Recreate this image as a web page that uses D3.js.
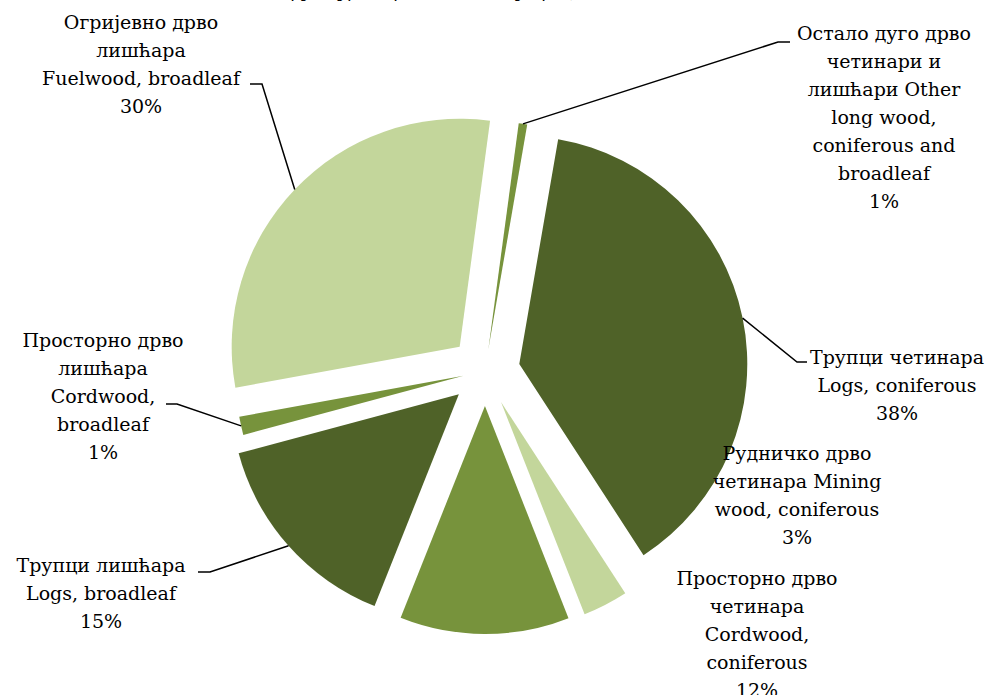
<!DOCTYPE html>
<html>
<head>
<meta charset="utf-8">
<script src="https://cdn.jsdelivr.net/npm/d3@7"></script>
<style>
  body { margin: 0; background: #fff; }
  svg { display: block; font-family: "DejaVu Serif", serif; }
</style>
</head>
<body>
<svg id="chart"></svg>
<script>
// clockwise from the top of the pie
const categories = [
  'Остало дуго дрво четинари и лишћари Other long wood, coniferous and broadleaf',
  'Трупци четинара Logs, coniferous',
  'Рудничко дрво четинара Mining wood, coniferous',
  'Просторно дрво четинара Cordwood, coniferous',
  'Трупци лишћара Logs, broadleaf',
  'Просторно дрво лишћара Cordwood, broadleaf',
  'Огријевно дрво лишћара Fuelwood, broadleaf'
];
const values = [0.6, 38.1, 3.2, 12.0, 14.8, 1.3, 30.0];
const percentLabels = ['1%', '38%', '3%', '12%', '15%', '1%', '30%'];
const labelLines = [
  ['Остало дуго дрво', 'четинари и', 'лишћари Other', 'long wood,', 'coniferous and', 'broadleaf'],
  ['Трупци четинара', 'Logs, coniferous'],
  ['Рудничко дрво', 'четинара Mining', 'wood, coniferous'],
  ['Просторно дрво', 'четинара', 'Cordwood,', 'coniferous'],
  ['Трупци лишћара', 'Logs, broadleaf'],
  ['Просторно дрво', 'лишћара', 'Cordwood,', 'broadleaf'],
  ['Огријевно дрво', 'лишћара', 'Fuelwood, broadleaf']
];

const width = 1003;
const height = 695;
const cx = 485, cy = 371;
const radius = 228;
const startDeg = 7.66;
const lineH = 28;

const colors = ['#77933C', '#4F6228', '#C3D69B', '#77933C', '#4F6228', '#77933C', '#C3D69B'];
const explode = [22, 35, 35, 35, 35, 22, 35];

// label block: centre x, first line y; leader: elbow x, elbow y, end x (null = no leader)
const labelPos = [
  { x: 884, y: 33, leader: [778, 42, 790] },
  { x: 897, y: 357, leader: [797, 362, 807] },
  { x: 797, y: 453, leader: null },
  { x: 757, y: 578, leader: null },
  { x: 101, y: 565, leader: [210, 572, 198] },
  { x: 103, y: 340, leader: [177, 404, 166] },
  { x: 141, y: 22, leader: [262, 84, 250] }
];

const svg = d3.select('#chart')
  .attr('width', width)
  .attr('height', height)
  .attr('viewBox', `0 0 ${width} ${height}`);

// title, mostly cut off at the top edge
svg.append('text')
  .attr('x', 458)
  .attr('y', -3)
  .attr('text-anchor', 'middle')
  .style('font-style', 'italic')
  .style('font-size', '17px')
  .attr('fill', '#000')
  .text('Структура сортимената (у процентима)');

const data = values.map((v, i) => ({ name: categories[i], value: v, i }));

const pie = d3.pie()
  .sort(null)
  .value(d => d.value)
  .startAngle(startDeg * Math.PI / 180)
  .endAngle(startDeg * Math.PI / 180 + 2 * Math.PI);

const arc = d3.arc()
  .innerRadius(0)
  .outerRadius(radius);

const arcs = pie(data);

const offset = d => {
  const mid = (d.startAngle + d.endAngle) / 2;
  const e = explode[d.data.i];
  return [e * Math.sin(mid), -e * Math.cos(mid)];
};

const g = svg.append('g')
  .attr('transform', `translate(${cx}, ${cy})`);

g.selectAll('path')
  .data(arcs)
  .enter()
  .append('path')
  .attr('transform', d => `translate(${offset(d)})`)
  .attr('d', arc)
  .attr('fill', d => colors[d.data.i])
  .append('title')
  .text(d => `${d.data.name}: ${percentLabels[d.data.i]}`);

// leader lines from the outer edge of the slice to the label
g.selectAll('polyline')
  .data(arcs.filter(d => labelPos[d.data.i].leader))
  .enter()
  .append('polyline')
  .attr('fill', 'none')
  .attr('stroke', '#000')
  .attr('stroke-width', 1.5)
  .attr('points', d => {
    const mid = (d.startAngle + d.endAngle) / 2;
    const [ox, oy] = offset(d);
    const sx = ox + radius * Math.sin(mid);
    const sy = oy - radius * Math.cos(mid);
    const [ex, ey, tx] = labelPos[d.data.i].leader;
    return [[sx, sy], [ex - cx, ey - cy], [tx - cx, ey - cy]].map(p => p.join(',')).join(' ');
  });

// labels
const labels = svg.selectAll('text.lbl')
  .data(arcs)
  .enter()
  .append('text')
  .attr('class', 'lbl')
  .attr('text-anchor', 'middle')
  .attr('fill', '#000')
  .style('font-size', '19px');

labels.each(function(d) {
  const p = labelPos[d.data.i];
  const lines = labelLines[d.data.i].concat([percentLabels[d.data.i]]);
  d3.select(this).selectAll('tspan')
    .data(lines)
    .enter()
    .append('tspan')
    .attr('x', p.x)
    .attr('y', (t, k) => p.y + k * lineH)
    .attr('dy', '0.35em')
    .text(t => t);
});
</script>
</body>
</html>
